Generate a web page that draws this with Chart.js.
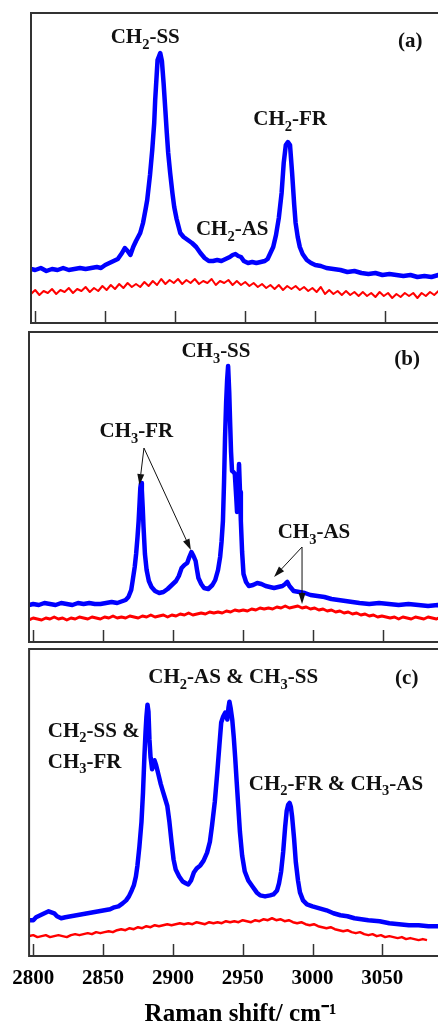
<!DOCTYPE html>
<html>
<head>
<meta charset="utf-8">
<script src="https://cdn.jsdelivr.net/npm/chart.js@4.4.1/dist/chart.umd.min.js"></script>
<style>
  html, body { margin: 0; padding: 0; background: #fff; overflow: hidden; }
  body { width: 438px; height: 1023px; position: relative; }
  canvas { position: absolute; left: 0; }
</style>
</head>
<body>
<canvas id="panelA" width="452" height="328" style="top:0px"></canvas>
<canvas id="panelB" width="452" height="318" style="top:328px"></canvas>
<canvas id="panelC" width="452" height="381" style="top:646px"></canvas>
<script>
(function () {
  // Raman shift tick labels (cm-1)
  var shiftTicks = [2800, 2850, 2900, 2950, 3000, 3050];

  // red traces, all on the same shift grid
  var redShift = [2797,2800,2803,2806,2809,2812,2815,2818,2821,2824,2827,2830,2833,2836,2839,2842,2845,2848,2851,2854,
    2857,2860,2863,2866,2869,2872,2875,2878,2881,2884,2887,2890,2893,2896,2899,2902,2905,2908,2911,2914,
    2917,2920,2923,2926,2929,2932,2935,2938,2941,2944,2947,2950,2953,2956,2959,2962,2965,2968,2971,2974,
    2977,2980,2983,2986,2989,2992,2995,2998,3001,3004,3007,3010,3013,3016,3019,3022,3025,3028,3031,3034,
    3037,3040,3043,3046,3049,3052,3055,3058,3061,3064,3067,3070,3073,3076,3079,3082,3085,3088,3091,3094];
  var redA = [29,33,28,32,30,34,29,33,31,35, 30,34,32,36,31,35,32,37,33,38, 34,39,35,40,36,39,36,41,37,42,
    38,44,39,43,40,44,39,43,40,44, 39,42,40,44,38,42,40,43,38,42, 38,41,37,40,36,39,35,38,34,38,
    33,37,34,37,33,36,32,35,31,36, 29,33,29,32,28,32,28,31,27,31, 27,30,26,31,27,30,25,29,26,30,
    27,30,25,30,27,31,28,32,29,31];
  var redB = [22,24,23,22,24,23,25,23,24,22, 24,23,25,24,23,25,24,23,25,24, 26,24,25,24,26,25,24,26,25,27,
    25,26,27,25,27,26,28,27,29,27, 28,29,28,30,29,30,29,31,30,32, 31,32,31,33,32,34,33,34,33,35,
    34,36,34,35,36,34,35,33,34,32, 33,31,32,30,31,29,30,28,29,27, 28,26,27,25,26,25,24,25,23,25,
    24,23,25,24,23,25,24,23,25,24];
  var redC = [20,21,19,20,21,19,20,21,20,19, 21,22,21,22,23,22,24,23,24,25, 24,26,27,26,28,27,29,28,30,29,
    31,30,31,32,31,32,33,32,33,32, 34,33,32,34,33,34,33,35,34,35, 34,36,35,34,36,35,37,36,38,36,
    37,35,36,34,33,34,32,31,32,30, 29,28,29,27,26,25,26,24,23,24, 22,21,22,20,21,19,20,19,18,19,
    17,18,17,16,17,16,null,null,null,null];

  // blue traces
  var blueShiftA = [2797,2800,2804,2808,2812,2816,2820,2824,2828,2832,2836,2840,2844,2847,2850,2853,2856,2859,2862,2864,
    2866,2868,2870,2872,2875,2877,2879,2880,2882,2883.6,2885,2885.7,2887.4,2889.3,2890.5,2891.7,2893,2894,2895,2896.4,
    2898,2899.3,2901,2903.6,2906,2909,2912,2915,2918,2921,2924,2927,2930,2933,2936,2939,2941,2943,2945,2947,
    2949,2952,2955,2958,2961,2964,2966,2968,2970,2972,2974,2976,2977.5,2979,2980.5,2982,2983.5,2985,2986,2987.5,
    2989,2991,2994,2997,3000,3004,3008,3013,3018,3023,3028,3033,3038,3043,3048,3053,3058,3063,3068,3073,
    3078,3083,3088,3092,3098];
  var blueA = [54,53,55,52,54,53,55,53,54,55,54,55,56,55,58,60,62,64,70,75,
    72,68,76,82,90,100,115,123,148,173,200,223,263,270,262,240,212,190,170,150,
    130,116,104,90,86,83,80,76,70,65,62,62,63,62,64,66,68,69,67,66,
    62,60,61,60,61,62,64,70,76,88,105,130,160,178,181,178,150,118,100,86,
    76,69,63,60,58,57,55,54,53,51,52,50,49,50,48,49,48,47,48,46,
    47,46,48,47,46];

  var blueShiftB = [2797,2800,2804,2808,2812,2816,2820,2824,2828,2832,2836,2840,2844,2848,2852,2856,2860,2864,2866,2868,
    2870,2871,2872.5,2873.5,2874.5,2875.3,2876,2876.5,2877,2877.6,2878.2,2878.8,2879.8,2881,2882.6,2884.5,2887,2890,2893,2896,
    2899,2902,2904,2906,2908,2910,2911.5,2913,2914.5,2916,2917,2918,2920,2922,2925,2928,2930,2932,2933.5,2934.5,
    2935.5,2936.3,2937,2937.8,2938.5,2939.2,2940,2940.6,2941.3,2942,2943,2944,2945,2945.6,2946.3,2947,2947.7,2948.3,2949.2,2950.2,
    2952,2954,2957,2960,2963,2966,2969,2972,2975,2978,2980,2981.5,2983,2986,2990,2994,2998,3003,3008,3013,
    3018,3023,3028,3033,3040,3047,3054,3061,3068,3075,3082,3089,3098];
  var blueB = [37,38,37,39,38,37,39,38,37,39,38,39,38,38,39,40,39,41,42,45,
    52,61,75,88,105,121,140,154,159,152,135,115,88,72,61,55,51,49,50,53,
    57,61,66,74,77,79,85,90,86,81,72,64,58,54,53,57,62,72,85,100,
    121,160,204,240,262,276,250,221,190,171,170,168,145,130,150,178,150,121,90,68,
    60,56,57,59,58,56,55,54,55,56,58,60,56,51,50,49,47,46,45,43,
    42,41,40,39,38,39,38,37,38,37,36,37,36];

  var blueShiftC = [2797,2800,2802,2805,2808,2811,2813,2815,2817,2820,2823,2827,2831,2835,2839,2843,2847,2851,2855,2858,
    2861,2864,2866.5,2868.5,2870.5,2872,2873.5,2874.6,2876,2877.5,2878.6,2879.6,2880.4,2881,2881.8,2882.5,2883.2,2884,2885.1,2886,
    2886.8,2888,2889.6,2891.3,2893,2894.5,2896,2897.5,2899,2900.5,2902,2904.5,2907,2909.5,2911,2913,2915,2917,2919.5,2922,
    2924.5,2926.5,2928,2930,2931.8,2933.3,2934.6,2936,2937.5,2939,2939.8,2940.5,2941.3,2942.5,2943.6,2944.6,2945.7,2946.8,2948,2949.6,
    2951.5,2954,2957,2960,2962.5,2966,2969.6,2972,2974.6,2976,2977.5,2979,2980.4,2981.5,2982.5,2983.6,2984.5,2985.4,2986.8,2988,
    2989.6,2991,2993.2,2996,3000,3005,3010,3015,3020,3025,3030,3035,3040,3048,3055,3062,3069,3076,3083,3090,3098];
  var blueC = [36,36,39,41,43,45,44,43,40,38,39,40,41,42,43,44,45,46,47,49,
    50,53,56,60,66,71,80,91,110,135,165,201,225,240,253,246,218,200,188,193,
    197,192,183,173,165,158,151,135,115,97,87,80,75,73,72,76,84,88,91,96,
    104,115,131,155,185,212,235,241,245,238,250,256,250,238,220,200,175,151,125,101,
    85,76,70,64,61,60,61,62,66,73,85,105,130,146,152,154,150,140,118,95,
    76,64,56,52,50,48,46,43,41,40,38,37,36,35,33,32,31,31,30,30,29];

  var serif = "'Liberation Serif', 'Times New Roman', serif";
  Chart.defaults.font.family = serif;

  function points(xs, ys) {
    return xs.map(function (x, i) { return { x: x, y: ys[i] }; });
  }

  function useTicks(scale) {
    scale.ticks = shiftTicks.map(function (v) { return { value: v }; });
  }

  function drawNote(ctx, n, xs, ys) {
    var big = 'bold 21px ' + serif, small = 'bold 14.5px ' + serif;
    var w = 0;
    n.parts.forEach(function (p) {
      ctx.font = p[1] ? small : big;
      w += ctx.measureText(p[0]).width;
    });
    var px = xs.getPixelForValue(n.at[0]), py = ys.getPixelForValue(n.at[1]);
    if (n.align !== 'left') px -= w / 2;
    ctx.textAlign = 'left';
    ctx.textBaseline = 'middle';
    ctx.fillStyle = '#111';
    n.parts.forEach(function (p) {
      ctx.font = p[1] ? small : big;
      ctx.fillText(p[0], px, p[1] ? py + 7 : py);
      px += ctx.measureText(p[0]).width;
    });
  }

  function drawArrow(ctx, x1, y1, x2, y2) {
    var ang = Math.atan2(y2 - y1, x2 - x1), L = 11, W = 3.5;
    var c = Math.cos(ang), s = Math.sin(ang);
    ctx.beginPath();
    ctx.moveTo(x1, y1);
    ctx.lineTo(x2 - L * c, y2 - L * s);
    ctx.stroke();
    ctx.beginPath();
    ctx.moveTo(x2, y2);
    ctx.lineTo(x2 - L * c + W * s, y2 - L * s - W * c);
    ctx.lineTo(x2 - L * c - W * s, y2 - L * s + W * c);
    ctx.closePath();
    ctx.fill();
  }

  // frame, inward ticks, peak labels and arrows
  function decor(notes, arrows) {
    return {
      id: 'decor',
      afterDatasetsDraw: function (chart) {
        var ctx = chart.ctx, a = chart.chartArea, xs = chart.scales.x, ys = chart.scales.y;
        ctx.save();
        ctx.strokeStyle = '#333';
        ctx.lineWidth = 1.5;
        shiftTicks.forEach(function (t) {
          var px = Math.round(xs.getPixelForValue(t)) + 0.5;
          ctx.beginPath();
          ctx.moveTo(px, a.bottom);
          ctx.lineTo(px, a.bottom - 12);
          ctx.stroke();
        });
        ctx.lineWidth = 2;
        ctx.strokeRect(a.left, a.top, a.right - a.left, a.bottom - a.top);
        ctx.strokeStyle = '#111';
        ctx.fillStyle = '#111';
        ctx.lineWidth = 1;
        arrows.forEach(function (r) {
          drawArrow(ctx, xs.getPixelForValue(r[0][0]), ys.getPixelForValue(r[0][1]),
            xs.getPixelForValue(r[1][0]), ys.getPixelForValue(r[1][1]));
        });
        notes.forEach(function (n) { drawNote(ctx, n, xs, ys); });
        ctx.restore();
      }
    };
  }

  function makePanel(id, cfg) {
    var xAxis = {
      type: 'linear', min: 2797, max: cfg.xmax,
      afterBuildTicks: useTicks,
      display: false
    };
    if (cfg.axis) {
      xAxis.display = true;
      xAxis.grid = { display: false, drawTicks: false };
      xAxis.border = { display: false };
      xAxis.ticks = {
        color: '#000', padding: 12,
        font: { family: serif, size: 21, weight: 'bold', lineHeight: 1 },
        callback: function (v) { return String(v); }
      };
      xAxis.title = {
        display: true, text: 'Raman shift/ cm\u207B\u00B9', color: '#000',
        font: { family: serif, size: 25, weight: 'bold', lineHeight: 1 },
        padding: { top: 1, bottom: 0 }
      };
    }
    return new Chart(document.getElementById(id).getContext('2d'), {
      type: 'line',
      data: {
        datasets: [{
          data: points(cfg.blueX, cfg.blueY),
          borderColor: 'rgb(0, 0, 255)', borderWidth: 4.5,
          borderJoinStyle: 'round', borderCapStyle: 'round',
          pointRadius: 0, tension: 0, fill: false
        }, {
          data: points(redShift, cfg.redY),
          borderColor: 'rgb(255, 0, 0)', borderWidth: cfg.redWidth,
          borderJoinStyle: 'round',
          pointRadius: 0, tension: 0, fill: false, spanGaps: false
        }]
      },
      options: {
        responsive: false, animation: false, devicePixelRatio: 1, events: [],
        layout: { padding: cfg.pad },
        plugins: { legend: { display: false }, tooltip: { enabled: false } },
        scales: {
          x: xAxis,
          y: { type: 'linear', min: 0, max: cfg.ymax, display: false }
        }
      },
      plugins: [decor(cfg.notes, cfg.arrows)]
    });
  }

  makePanel('panelA', {
    blueX: blueShiftA, blueY: blueA, redY: redA, redWidth: 2,
    xmax: 3097.7, ymax: 310,
    pad: { left: 31, right: 0, top: 13, bottom: 5 },
    notes: [
      { parts: [['CH', 0], ['2', 1], ['-SS', 0]], at: [2878.6, 285] },
      { parts: [['(a)', 0]], at: [3067.9, 281] },
      { parts: [['CH', 0], ['2', 1], ['-FR', 0]], at: [2982.1, 203] },
      { parts: [['CH', 0], ['2', 1], ['-AS', 0]], at: [2940.7, 93] }
    ],
    arrows: []
  });

  makePanel('panelB', {
    blueX: blueShiftB, blueY: blueB, redY: redB, redWidth: 3,
    xmax: 3099.1, ymax: 310,
    pad: { left: 29, right: 0, top: 4, bottom: 4 },
    notes: [
      { parts: [['CH', 0], ['3', 1], ['-SS', 0]], at: [2930.5, 290] },
      { parts: [['(b)', 0]], at: [3067, 282] },
      { parts: [['CH', 0], ['3', 1], ['-FR', 0]], at: [2873.7, 210] },
      { parts: [['CH', 0], ['3', 1], ['-AS', 0]], at: [3000.5, 109] }
    ],
    arrows: [
      [[2879.1, 194], [2875.9, 157]],
      [[2879.1, 194], [2912.6, 92]],
      [[2992, 95], [2972, 65]],
      [[2992, 95], [2992, 38]]
    ]
  });

  makePanel('panelC', {
    blueX: blueShiftC, blueY: blueC, redY: redC, redWidth: 2.5,
    xmax: 3099.9, ymax: 309, axis: true,
    pad: { left: 28, right: 0, top: 3, bottom: 0 },
    notes: [
      { parts: [['CH', 0], ['2', 1], ['-AS & CH', 0], ['3', 1], ['-SS', 0]], at: [2943.2, 280] },
      { parts: [['(c)', 0]], at: [3067.5, 279] },
      { parts: [['CH', 0], ['2', 1], ['-SS &', 0]], at: [2810.4, 226], align: 'left' },
      { parts: [['CH', 0], ['3', 1], ['-FR', 0]], at: [2810.4, 195], align: 'left' },
      { parts: [['CH', 0], ['2', 1], ['-FR & CH', 0], ['3', 1], ['-AS', 0]], at: [3016.8, 173] }
    ],
    arrows: []
  });
})();
</script>
</body>
</html>
